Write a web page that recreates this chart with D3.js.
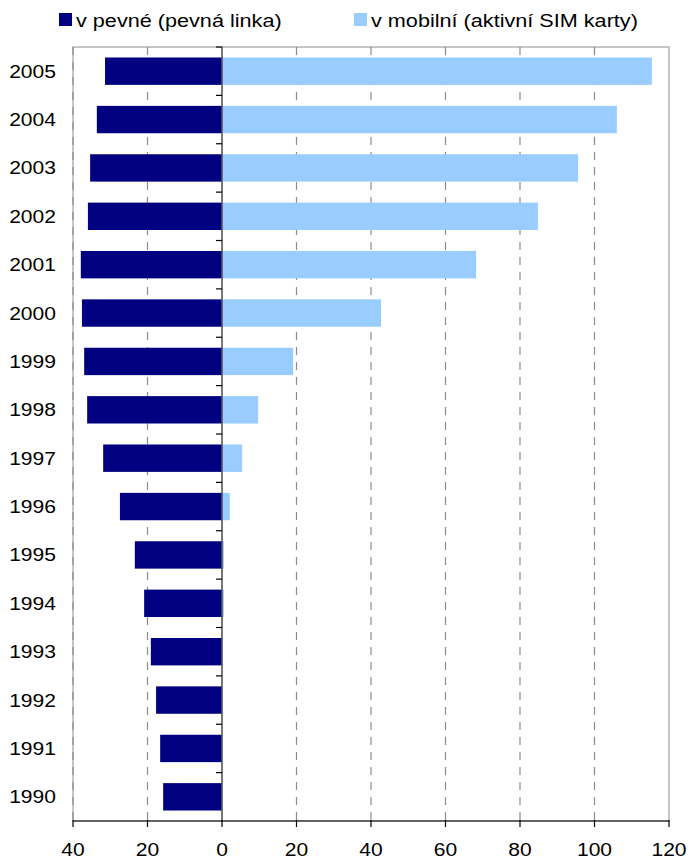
<!DOCTYPE html>
<html>
<head>
<meta charset="utf-8">
<script src="https://cdnjs.cloudflare.com/ajax/libs/d3/7.8.5/d3.min.js"></script>
<style>
  body { margin: 0; background: #fff; }
  text { font-family: "Liberation Sans", Arial, sans-serif; fill: #000; }
</style>
</head>
<body>
<div id="chart"></div>
<script>
const years = ['1990', '1991', '1992', '1993', '1994', '1995', '1996', '1997',
    '1998', '1999', '2000', '2001', '2002', '2003', '2004', '2005'];
const fixedLine = [15.8, 16.6, 17.7, 19.1, 20.9, 23.4, 27.4, 31.9,
    36.2, 37.0, 37.6, 37.9, 36.0, 35.4, 33.6, 31.4];
const mobileSim = [0, 0, 0.05, 0.1, 0.5, 0.5, 2.1, 5.4,
    9.7, 19.1, 42.7, 68.2, 84.8, 95.6, 106.0, 115.4];
const xTicks = [-40, -20, 0, 20, 40, 60, 80, 100, 120];
const seriesNames = ['v pevné (pevná linka)', 'v mobilní (aktivní SIM karty)'];
const seriesColors = ['#000080', '#99ccff'];

const W = 690, H = 861;
const margin = {top: 47, right: 21, bottom: 40, left: 73};
const width = W - margin.left - margin.right;
const height = H - margin.top - margin.bottom;
const stretch = 1.17; // text in the original is drawn a bit wide

const svg = d3.select('#chart').append('svg')
    .attr('width', W)
    .attr('height', H);

const g = svg.append('g')
    .attr('transform', `translate(${margin.left}, ${margin.top})`);

const x = d3.scaleLinear().domain([-40, 120]).range([0, width]);
const y = d3.scaleBand()
    .domain(years.slice().reverse())
    .range([0, height])
    .paddingInner(0.434)
    .paddingOuter(0.217);

// plot frame
g.append('rect')
    .attr('width', width)
    .attr('height', height)
    .attr('fill', 'none')
    .attr('stroke', '#b4b4b4')
    .attr('stroke-width', 1.5);

// dashed gridlines
g.append('g')
    .selectAll('line')
    .data(xTicks.filter(d => d !== 0 && d !== 120))
    .enter().append('line')
    .attr('x1', d => x(d)).attr('x2', d => x(d))
    .attr('y1', 0).attr('y2', height)
    .attr('stroke', '#8c8c8c')
    .attr('stroke-width', 1.2)
    .attr('stroke-dasharray', '8,7');

// bars
const rows = years.map((yr, i) => ({year: yr, fixed: fixedLine[i], mobile: mobileSim[i]}));

g.selectAll('.bar-fixed')
    .data(rows)
    .enter().append('rect')
    .attr('class', 'bar-fixed')
    .attr('x', d => x(-d.fixed))
    .attr('y', d => y(d.year))
    .attr('width', d => x(0) - x(-d.fixed))
    .attr('height', y.bandwidth())
    .attr('fill', seriesColors[0]);

g.selectAll('.bar-mobile')
    .data(rows)
    .enter().append('rect')
    .attr('class', 'bar-mobile')
    .attr('x', x(0))
    .attr('y', d => y(d.year))
    .attr('width', d => x(d.mobile) - x(0))
    .attr('height', y.bandwidth())
    .attr('fill', seriesColors[1]);

// zero line with category ticks
g.append('line')
    .attr('x1', x(0)).attr('x2', x(0))
    .attr('y1', 0).attr('y2', height)
    .attr('stroke', '#555')
    .attr('stroke-width', 1.6);

const step = y.step();
g.append('g')
    .selectAll('line')
    .data(d3.range(years.length))
    .enter().append('line')
    .attr('x1', x(0) - 6).attr('x2', x(0))
    .attr('y1', d => d * step).attr('y2', d => d * step)
    .attr('stroke', '#000')
    .attr('stroke-width', 1.2);

// year labels
g.append('g')
    .selectAll('text')
    .data(years)
    .enter().append('text')
    .attr('transform', d => `translate(-17, ${y(d) + y.bandwidth() / 2}) scale(${stretch}, 1)`)
    .attr('text-anchor', 'end')
    .attr('dy', '0.36em')
    .style('font-size', '18px')
    .text(d => d);

// bottom axis
const axis = g.append('g').attr('transform', `translate(0, ${height})`);
axis.append('line')
    .attr('x1', 0).attr('x2', width)
    .attr('stroke', '#000')
    .attr('stroke-width', 1.2);
axis.selectAll('.tick')
    .data(xTicks)
    .enter().append('line')
    .attr('x1', d => x(d)).attr('x2', d => x(d))
    .attr('y1', -1).attr('y2', 6)
    .attr('stroke', '#000')
    .attr('stroke-width', 1.2);
axis.selectAll('text')
    .data(xTicks)
    .enter().append('text')
    .attr('transform', d => `translate(${x(d)}, 35) scale(${stretch}, 1)`)
    .attr('text-anchor', 'middle')
    .style('font-size', '18px')
    .text(d => Math.abs(d));

// legend
const legendX = [59, 354];
const legend = svg.append('g')
    .selectAll('g')
    .data(seriesNames)
    .enter().append('g')
    .attr('transform', (d, i) => `translate(${legendX[i]}, 13)`);
legend.append('rect')
    .attr('width', 13).attr('height', 13)
    .attr('fill', (d, i) => seriesColors[i]);
legend.append('text')
    .attr('transform', `translate(17, 14) scale(${stretch}, 1)`)
    .style('font-size', '18.5px')
    .text(d => d);
</script>
</body>
</html>
